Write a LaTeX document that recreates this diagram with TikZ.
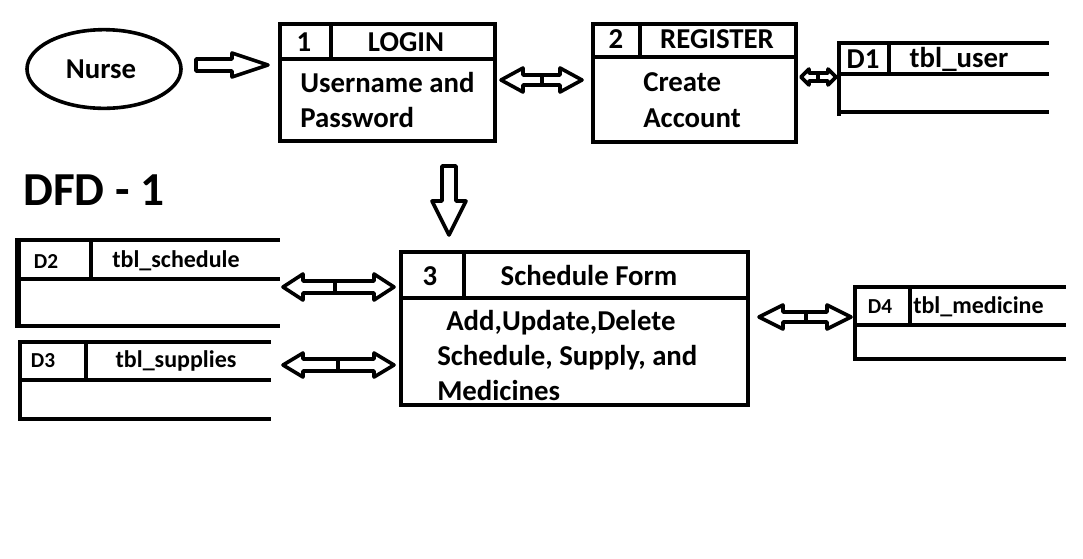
\documentclass[tikz,border=0pt]{standalone}
\usepackage{fontspec}
\setmainfont{Carlito}
\usetikzlibrary{shapes.geometric}
\newcommand\hdarrow[7]{% #1 left tip, #2 middle, #3 right tip, #4 y, #5 head length, #6 head half, #7 shaft half
  \draw[harrow] (#1,#4) -- ({#1+#5},{#4-#6}) -- ({#1+#5},{#4-#7}) -- (#2,{#4-#7}) -- (#2,{#4+#7}) -- ({#1+#5},{#4+#7}) -- ({#1+#5},{#4+#6}) -- cycle;
  \draw[harrow] (#3,#4) -- ({#3-#5},{#4-#6}) -- ({#3-#5},{#4-#7}) -- (#2,{#4-#7}) -- (#2,{#4+#7}) -- ({#3-#5},{#4+#7}) -- ({#3-#5},{#4+#6}) -- cycle;
}
\begin{document}
\begin{tikzpicture}[x=0.75pt,y=-0.75pt,
  boxline/.style={line width=3.2pt},
  storeline/.style={line width=3pt, line cap=rect},
  harrow/.style={line width=2.7pt, line join=round},
  big/.style={font=\bfseries\fontsize{21.6}{25}\selectfont, inner sep=0pt},
  mid/.style={font=\bfseries\fontsize{18}{22}\selectfont, inner sep=0pt},
  small/.style={font=\bfseries\fontsize{16}{20}\selectfont, inner sep=0pt}]
\useasboundingbox[fill=white] (0,0) rectangle (1083,558);

% Nurse
\node[ellipse, draw, line width=2.7pt, minimum width=115.5pt, minimum height=59pt, big] (nurse) at (104,69) {};
\node[big, anchor=base] (nursetxt) at (101,78) {Nurse};
\draw[harrow] (196,59) -- (232,59) -- (232,53) -- (268,65) -- (232,77) -- (232,71) -- (196,71) -- cycle;

% 1 LOGIN
\draw[boxline] (280,24) rectangle (495,141);
\draw[boxline] (280,59) -- (495,59);
\draw[boxline] (331,24) -- (331,59);
\node[big, anchor=base] (n1) at (304,51) {1};
\node[big, anchor=base] (login) at (406,51) {LOGIN};
\node[big, anchor=base west] (l1) at (300,92) {Username and};
\node[big, anchor=base west] (l2) at (300,127) {Password};

% arrow login <-> register
\hdarrow{501}{542}{582}{80}{22}{12}{5}

% 2 REGISTER
\draw[boxline] (593,24) rectangle (796,142);
\draw[boxline] (593,57) -- (796,57);
\draw[boxline] (640,24) -- (640,57);
\node[big, anchor=base] (n2) at (616,48) {2};
\node[big, anchor=base] (register) at (717,48) {REGISTER};
\node[big, anchor=base west] (r1) at (643,91) {Create};
\node[big, anchor=base west] (r2) at (643,127) {Account};

% arrow register <-> D1
\hdarrow{801}{818}{836}{77}{8}{8}{4}

% D1 tbl_user
\draw[storeline] (839,43) -- (1047,43);
\draw[storeline] (839,74) -- (1047,74);
\draw[storeline] (839,112) -- (1047,112);
\draw[storeline] (839,43) -- (839,114);
\draw[storeline] (889,43) -- (889,74);
\node[big, anchor=base] (d1) at (863,68) {D1};
\node[big, anchor=base] (tuser) at (959,67) {tbl\_user};

% down arrow
\draw[harrow] (442,166) -- (456,166) -- (456,201) -- (466,201) -- (449,235) -- (432,201) -- (442,201) -- cycle;

% DFD - 1
\node[font=\bfseries\fontsize{35.5}{40}\selectfont, inner sep=0pt, anchor=base] (title) at (94,205) {DFD - 1};

% D2 tbl_schedule
\draw[storeline] (17,240) -- (278,240);
\draw[storeline] (17,279) -- (278,279);
\draw[storeline] (17,326) -- (278,326);
\draw[line width=4pt] (18,238) -- (18,326);
\draw[storeline] (91,240) -- (91,279);
\node[small, anchor=base] (d2) at (46,268) {D2};
\node[mid, anchor=base] (tsched) at (176,267) {tbl\_schedule};

% D3 tbl_supplies
\draw[storeline] (20,342) -- (269,342);
\draw[storeline] (20,380) -- (269,380);
\draw[storeline] (20,419) -- (269,419);
\draw[storeline] (20,342) -- (20,419);
\draw[storeline] (86,342) -- (86,380);
\node[small, anchor=base] (d3) at (43,367) {D3};
\node[mid, anchor=base] (tsup) at (176,367) {tbl\_supplies};

% arrows D2/D3 <-> schedule
\hdarrow{283}{335}{394}{287}{20}{13}{6}
\hdarrow{283}{338}{394}{365}{20}{12}{6}

% 3 Schedule Form
\draw[boxline] (401,252) rectangle (748,405);
\draw[boxline] (401,298) -- (748,298);
\draw[boxline] (464,252) -- (464,298);
\node[big, anchor=base] (n3) at (430,285) {3};
\node[big, anchor=base] (sform) at (589,285) {Schedule Form};
\node[big, anchor=base west] (s1) at (446,330) {Add,Update,Delete};
\node[big, anchor=base west] (s2) at (437,365) {Schedule, Supply, and};
\node[big, anchor=base west] (s3) at (437,400) {Medicines};

% arrow schedule <-> D4
\hdarrow{759}{806}{851}{317}{24}{12}{5}

% D4 tbl_medicine
\draw[storeline] (855,287) -- (1064,287);
\draw[storeline] (855,325) -- (1064,325);
\draw[storeline] (855,359) -- (1064,359);
\draw[storeline] (855,287) -- (855,359);
\draw[storeline] (910,287) -- (910,325);
\node[small, anchor=base] (d4) at (880,313) {D4};
\node[mid, anchor=base west] (tmed) at (913,313) {tbl\_medicine};
\end{tikzpicture}
\end{document}
